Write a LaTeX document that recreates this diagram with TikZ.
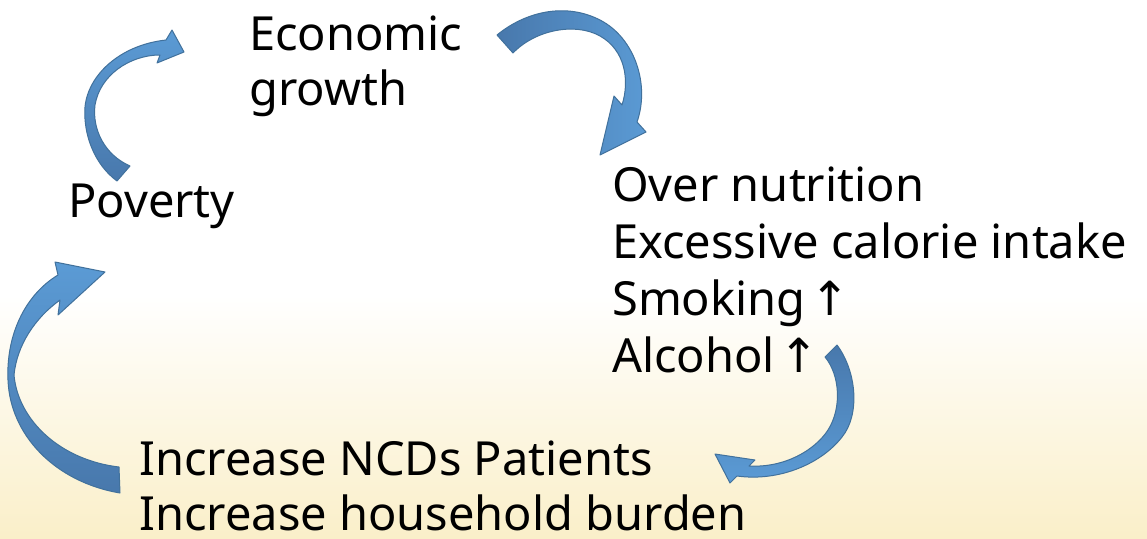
\documentclass[tikz,border=0pt]{standalone}
\usepackage{fontspec}
\setmainfont{Noto Sans}
\newfontfamily\arrowfont{DejaVu Sans}
\definecolor{arlight}{HTML}{5B9BD5}
\definecolor{ardark}{HTML}{4878AC}
\definecolor{arline}{HTML}{41719C}
\definecolor{bgyel}{HTML}{FAEFC9}
\begin{document}
\begin{tikzpicture}[x=1pt,y=-1pt,
  lbl/.style={inner sep=0pt, anchor=base west, align=left},
  bigfont/.style={font=\fontsize{47}{57}\selectfont},
  twofont/.style={font=\fontsize{47}{55}\selectfont},
  arrowshape/.style={draw=arline, line width=1pt, line join=round}]
\useasboundingbox (0,0) rectangle (1147,538);
\fill[white] (0,0) rectangle (1147,538);
\shade[top color=white, bottom color=bgyel] (0,295) rectangle (1147,538);

% texts (base anchor = baseline of last line)
\node[lbl, twofont] (econ) at (249,105) {Economic\\growth};
\node[lbl, bigfont] (pov) at (68,217) {Poverty};
\node[lbl, bigfont] (over) at (612,372) {Over nutrition\\Excessive calorie intake\\Smoking\hspace{5pt}{\arrowfont ↑}\\Alcohol\hspace{5pt}{\arrowfont ↑}};
\node[lbl, twofont] (ncd) at (139,530) {Increase NCDs Patients\\Increase household burden};

% arrow: Poverty -> Economic growth
\path[arrowshape, top color=arlight, bottom color=ardark]
 (117,181) .. controls (95,165) and (83,135) .. (85,107)
 .. controls (88,75) and (120,45) .. (166,40)
 -- (172,30) -- (184,52) -- (157,63) -- (160,55)
 .. controls (130,55) and (100,75) .. (95,105)
 .. controls (92,130) and (105,155) .. (130,166)
 -- cycle;

% arrow: Economic growth -> Over nutrition
\path[arrowshape, left color=ardark, right color=arlight]
 (497,35) .. controls (525,12) and (565,2) .. (600,20)
 .. controls (635,38) and (650,85) .. (637,122)
 -- (646,132) -- (600,155) -- (614,96) -- (622,105)
 .. controls (630,80) and (625,50) .. (600,36)
 .. controls (575,22) and (535,30) .. (513,53)
 -- cycle;

% arrow: Alcohol -> Increase NCDs
\path[arrowshape, top color=ardark, bottom color=arlight]
 (837,345) .. controls (857,372) and (860,415) .. (842,437)
 .. controls (822,463) and (780,482) .. (737,476)
 -- (730,483) -- (715,454) -- (755,460) -- (749,466)
 .. controls (785,468) and (815,450) .. (828,430)
 .. controls (842,408) and (840,375) .. (825,357)
 -- cycle;

% arrow: Increase NCDs -> Poverty
\path[arrowshape, top color=arlight, bottom color=ardark]
 (120,493) .. controls (55,482) and (10,435) .. (8,380)
 .. controls (6,335) and (25,295) .. (58,275)
 -- (55,262) -- (105,272) -- (58,315) -- (60,300)
 .. controls (35,318) and (17,345) .. (14,375)
 .. controls (18,420) and (60,460) .. (119,467)
 -- cycle;
\end{tikzpicture}
\end{document}
